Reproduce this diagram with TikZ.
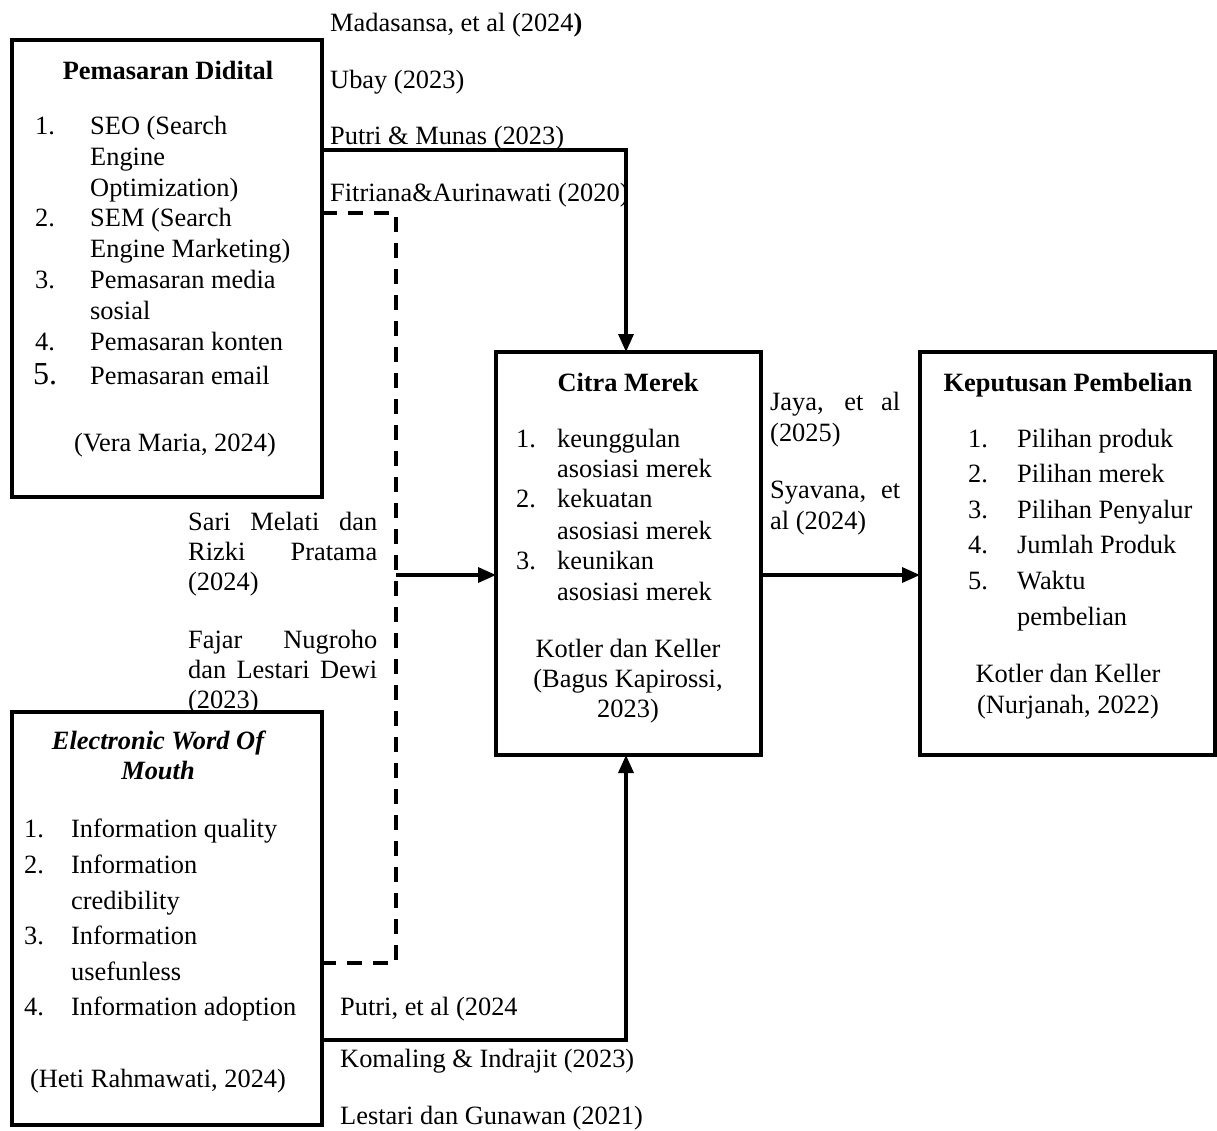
\documentclass[tikz,border=0pt]{standalone}
\usepackage{fontspec}
\setmainfont{Liberation Serif}
\usetikzlibrary{arrows.meta}
\newcommand\myfs{\fontsize{26.4}{31}\selectfont}
\newcommand\mybig{\fontsize{32}{31}\selectfont}
\begin{document}
\begin{tikzpicture}[x=1pt,y=-1pt,
  box/.style={draw, line width=3.8pt, rectangle, inner sep=0pt, outer sep=0pt, anchor=north west},
  conn/.style={line width=3.4pt},
  arr/.style={conn, -{Triangle[length=18pt,width=15pt]}},
  dline/.style={conn, dash pattern=on 15pt off 11pt},
  lt/.style={anchor=base west, inner sep=0pt, font=\myfs},
  ct/.style={anchor=base, inner sep=0pt, font=\myfs},
  ttl/.style={anchor=base, inner sep=0pt, font=\myfs\bfseries}]
\fill[white] (0,0) rectangle (1217,1130);
\useasboundingbox (0,0) rectangle (1217,1130);

% boxes
\node[box, minimum width=310pt, minimum height=457pt] (pd) at (12,40) {};
\node[box, minimum width=265pt, minimum height=403pt] (cm) at (496,352) {};
\node[box, minimum width=295pt, minimum height=403pt] (kp) at (920,352) {};
\node[box, minimum width=310pt, minimum height=413pt] (ew) at (12,712) {};

% connector points
\coordinate (pdA) at (322,150);
\coordinate (pdB) at (322,213);
\coordinate (dA) at (396,213);
\coordinate (dB) at (396,963);
\coordinate (dM) at (396,575);
\coordinate (ewB) at (322,963);
\coordinate (ewA) at (322,1040);
\coordinate (cmE) at (761,575);
\coordinate (cmN) at (626,352);
\coordinate (cmS) at (626,755);

\draw[arr] (pdA) -| (cmN);
\draw[dline] (pdB) -- (dA) -- (dB) -- (ewB);
\draw[arr] (dM) -- (cm.west |- dM);
\draw[arr] (cmE) -- (kp.west |- cmE);
\draw[arr] (ewA) -| (cmS);

% top labels
\node[lt] (t1) at (330,31) {Madasansa, et al (2024\textbf{)}};
\node[lt] (t2) at (330,88) {Ubay (2023)};
\node[lt] (t3) at (330,144) {Putri \& Munas (2023)};
\node[lt] (t4) at (330,201) {Fitriana\&Aurinawati (2020)};

% Pemasaran Didital
\node[ttl] (pdT) at (168,79) {Pemasaran Didital};
\node[lt] (pn1) at (35,134) {1.};
\node[lt] (pa1) at (90,134) {SEO (Search};
\node[lt] (pa2) at (90,165) {Engine};
\node[lt] (pa3) at (90,196) {Optimization)};
\node[lt] (pn2) at (35,226) {2.};
\node[lt] (pa4) at (90,226) {SEM (Search};
\node[lt] (pa5) at (90,257) {Engine Marketing)};
\node[lt] (pn3) at (35,288) {3.};
\node[lt] (pa6) at (90,288) {Pemasaran media};
\node[lt] (pa7) at (90,319) {sosial};
\node[lt] (pn4) at (35,350) {4.};
\node[lt] (pa8) at (90,350) {Pemasaran konten};
\node[lt, font=\mybig] (pn5) at (33,384) {5.};
\node[lt] (pa9) at (90,384) {Pemasaran email};
\node[ct] (pdS) at (175,451) {(Vera Maria, 2024)};

% Citra Merek
\node[ttl] (cmT) at (628,391) {Citra Merek};
\node[lt] (cn1) at (516,447) {1.};
\node[lt] (ca1) at (557,447) {keunggulan};
\node[lt] (ca2) at (557,477) {asosiasi merek};
\node[lt] (cn2) at (516,507) {2.};
\node[lt] (ca3) at (557,507) {kekuatan};
\node[lt] (ca4) at (557,539) {asosiasi merek};
\node[lt] (cn3) at (516,569) {3.};
\node[lt] (ca5) at (557,569) {keunikan};
\node[lt] (ca6) at (557,600) {asosiasi merek};
\node[ct] (cs1) at (628,657) {Kotler dan Keller};
\node[ct] (cs2) at (628,687) {(Bagus Kapirossi,};
\node[ct] (cs3) at (628,717) {2023)};

% middle labels
\node[lt] (m1) at (770,410) {\makebox[130pt][s]{Jaya, et al}};
\node[lt] (m2) at (770,441) {(2025)};
\node[lt] (m3) at (770,498) {\makebox[130pt][s]{Syavana, et}};
\node[lt] (m4) at (770,529) {al (2024)};

% Keputusan Pembelian
\node[ttl] (kpT) at (1068,391) {Keputusan Pembelian};
\node[lt] (kn1) at (968,447) {1.};
\node[lt] (ka1) at (1017,447) {Pilihan produk};
\node[lt] (kn2) at (968,482) {2.};
\node[lt] (ka2) at (1017,482) {Pilihan merek};
\node[lt] (kn3) at (968,518) {3.};
\node[lt] (ka3) at (1017,518) {Pilihan Penyalur};
\node[lt] (kn4) at (968,553) {4.};
\node[lt] (ka4) at (1017,553) {Jumlah Produk};
\node[lt] (kn5) at (968,589) {5.};
\node[lt] (ka5) at (1017,589) {Waktu};
\node[lt] (ka6) at (1017,625) {pembelian};
\node[ct] (ks1) at (1068,682) {Kotler dan Keller};
\node[ct] (ks2) at (1068,713) {(Nurjanah, 2022)};

% left labels
\node[lt] (l1) at (188,530) {\makebox[189pt][s]{Sari Melati dan}};
\node[lt] (l2) at (188,560) {\makebox[189pt][s]{Rizki Pratama}};
\node[lt] (l3) at (188,590) {(2024)};
\node[lt] (l4) at (188,648) {\makebox[189pt][s]{Fajar Nugroho}};
\node[lt] (l5) at (188,678) {\makebox[189pt][s]{dan Lestari Dewi}};
\node[lt] (l6) at (188,708) {(2023)};

% Electronic Word Of Mouth
\node[ttl, font=\myfs\bfseries\itshape] (ewT1) at (158,749) {Electronic Word Of};
\node[ttl, font=\myfs\bfseries\itshape] (ewT2) at (158,779) {Mouth};
\node[lt] (en1) at (24,837) {1.};
\node[lt] (ea1) at (71,837) {Information quality};
\node[lt] (en2) at (24,873) {2.};
\node[lt] (ea2) at (71,873) {Information};
\node[lt] (ea3) at (71,909) {credibility};
\node[lt] (en3) at (24,944) {3.};
\node[lt] (ea4) at (71,944) {Information};
\node[lt] (ea5) at (71,980) {usefunless};
\node[lt] (en4) at (24,1015) {4.};
\node[lt] (ea6) at (71,1015) {Information adoption};
\node[ct] (ewS) at (158,1087) {(Heti Rahmawati, 2024)};

% bottom labels
\node[lt] (b1) at (340,1015) {Putri, et al (2024};
\node[lt] (b2) at (340,1067) {Komaling \& Indrajit (2023)};
\node[lt] (b3) at (340,1124) {Lestari dan Gunawan (2021)};
\end{tikzpicture}
\end{document}
